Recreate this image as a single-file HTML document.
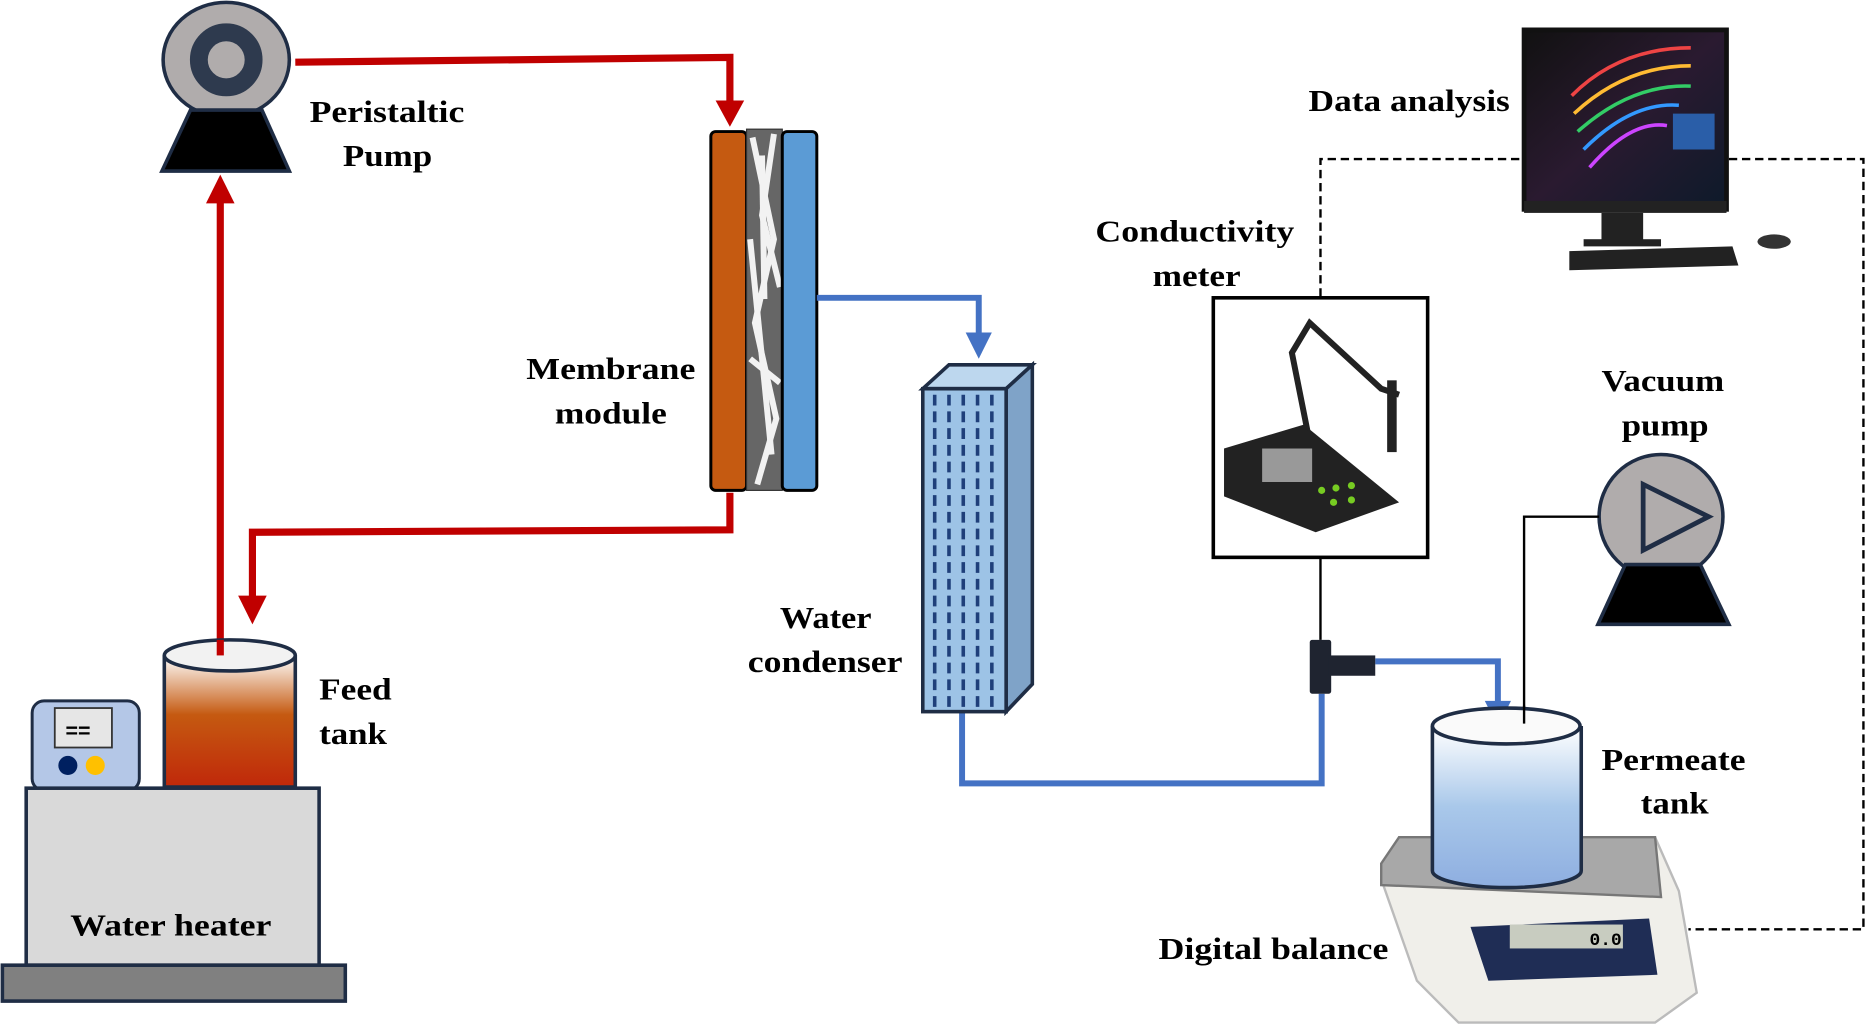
<!DOCTYPE html>
<html><head><meta charset="utf-8"><style>html,body{margin:0;padding:0;background:#fff}svg{display:block}text{font-family:"Liberation Serif",serif;font-weight:bold;font-size:26px;fill:#000}</style></head>
<body>
<svg width="1867" height="1025" viewBox="0 0 1568 857" preserveAspectRatio="none" xmlns="http://www.w3.org/2000/svg">
<defs>
<linearGradient id="feed" x1="0" y1="0" x2="0" y2="1"><stop offset="0" stop-color="#fff"/><stop offset="0.45" stop-color="#c55a11"/><stop offset="1" stop-color="#c0280a"/></linearGradient>
<linearGradient id="perm" x1="0" y1="0" x2="0" y2="1"><stop offset="0" stop-color="#fff"/><stop offset="0.5" stop-color="#a9c8ea"/><stop offset="1" stop-color="#8eaee0"/></linearGradient>
<linearGradient id="scr" x1="0" y1="0" x2="1" y2="1"><stop offset="0" stop-color="#111"/><stop offset="0.5" stop-color="#2a1a30"/><stop offset="1" stop-color="#0d1a2a"/></linearGradient>
</defs>
<g stroke="#c00000" stroke-width="6" fill="none">
<polyline points="248,52 613,48 613,90"/>
<line x1="185" y1="548" x2="185" y2="168"/>
<polyline points="613,412 613,443 212,445 212,500"/>
</g>
<g fill="#c00000">
<polygon points="601,84 625,84 613,106"/>
<polygon points="173,170 197,170 185,146"/>
<polygon points="200,498 224,498 212,522"/>
</g>
<ellipse cx="190" cy="50" rx="53" ry="48" fill="#b0acac" stroke="#1f2d45" stroke-width="3"/>
<circle cx="190" cy="50" r="23" fill="none" stroke="#2e3a4e" stroke-width="15"/>
<polygon points="160,92 220,92 243,143 136,143" fill="#000" stroke="#1f2d45" stroke-width="3"/>
<text x="260" y="102" textLength="130" lengthAdjust="spacingAndGlyphs">Peristaltic</text><text x="288" y="139" textLength="75" lengthAdjust="spacingAndGlyphs">Pump</text>
<rect x="597" y="110" width="30" height="300" rx="4" fill="#c55a11" stroke="#000" stroke-width="2.5"/>
<rect x="627" y="108" width="30" height="302" fill="#666" stroke="#333" stroke-width="1"/>
<g stroke="#f2f2f2" stroke-width="5" fill="none"><path d="M632,115 L650,200 L634,270 L652,350 L636,405"/><path d="M650,112 L640,180 L655,240"/><path d="M630,300 L655,320"/><path d="M640,130 L642,250"/><path d="M630,200 L648,380"/></g>
<rect x="657" y="110" width="29" height="300" rx="4" fill="#5b9bd5" stroke="#000" stroke-width="2.5"/>
<text x="442" y="317" textLength="142" lengthAdjust="spacingAndGlyphs">Membrane</text><text x="466" y="354" textLength="94" lengthAdjust="spacingAndGlyphs">module</text>
<g stroke="#4472c4" stroke-width="5" fill="none">
<polyline points="686,249 822,249 822,282"/>
<polyline points="808,595 808,655 1110,655 1110,580"/>
<polyline points="1155,553 1258,553 1258,590"/>
</g>
<g fill="#4472c4"><polygon points="811,278 833,278 822,300"/><polygon points="1247,586 1269,586 1258,608"/></g>
<polygon points="775,325 797,305 867,305 845,325" fill="#bdd7ee" stroke="#1f2d45" stroke-width="3"/>
<polygon points="845,325 867,305 867,572 845,595" fill="#7fa3c8" stroke="#1f2d45" stroke-width="3"/>
<rect x="775" y="325" width="70" height="270" fill="#9dc3e6" stroke="#1f2d45" stroke-width="3"/>
<g stroke="#1f3f7a" stroke-width="3" stroke-dasharray="9,5"><line x1="785" y1="330" x2="785" y2="592"/><line x1="797" y1="330" x2="797" y2="592"/><line x1="809" y1="330" x2="809" y2="592"/><line x1="821" y1="330" x2="821" y2="592"/><line x1="833" y1="330" x2="833" y2="592"/></g>
<text x="655" y="525" textLength="77" lengthAdjust="spacingAndGlyphs">Water</text><text x="628" y="562" textLength="130" lengthAdjust="spacingAndGlyphs">condenser</text>
<rect x="27" y="586" width="90" height="75" rx="10" fill="#b4c7e7" stroke="#1f2d45" stroke-width="2.5"/>
<rect x="46" y="592" width="48" height="33" fill="#e6e6e6" stroke="#333" stroke-width="1.5"/>
<text x="55" y="617" style="font-family:'Liberation Sans',sans-serif;font-size:18px">==</text>
<circle cx="57" cy="640" r="8" fill="#002060"/><circle cx="80" cy="640" r="8" fill="#ffc000"/>
<path d="M138,548 L138,658 L248,658 L248,548" fill="url(#feed)" stroke="#1f2d45" stroke-width="3"/>
<ellipse cx="193" cy="548" rx="55" ry="13" fill="#f2f2f2" stroke="#1f2d45" stroke-width="3"/>
<line x1="185" y1="548" x2="185" y2="535" stroke="#c00000" stroke-width="6"/>
<rect x="22" y="659" width="246" height="148" fill="#d9d9d9" stroke="#1f2d45" stroke-width="3"/>
<rect x="2" y="807" width="288" height="30" fill="#808080" stroke="#1f2d45" stroke-width="3"/>
<text x="59" y="782" textLength="169" lengthAdjust="spacingAndGlyphs">Water heater</text>
<text x="268" y="585" textLength="61" lengthAdjust="spacingAndGlyphs">Feed</text><text x="268" y="622" textLength="57" lengthAdjust="spacingAndGlyphs">tank</text>
<g stroke="#000" stroke-width="2" stroke-dasharray="7,4" fill="none"><polyline points="1109,248 1109,133 1282,133"/><polyline points="1452,133 1565,133 1565,777 1418,777"/></g>
<rect x="1280" y="25" width="170" height="150" fill="url(#scr)" stroke="#111" stroke-width="4"/>
<g stroke-width="3" fill="none"><path d="M1320,80 Q1360,40 1420,40" stroke="#e44"/><path d="M1322,95 Q1365,55 1420,55" stroke="#fb3"/><path d="M1325,110 Q1370,70 1420,72" stroke="#3c6"/><path d="M1330,125 Q1370,85 1410,88" stroke="#39f"/><path d="M1335,140 Q1370,100 1400,105" stroke="#c4f"/></g>
<rect x="1405" y="95" width="35" height="30" fill="#2a5ea8"/>
<rect x="1280" y="168" width="170" height="10" fill="#222"/>
<rect x="1345" y="178" width="35" height="25" fill="#222"/><rect x="1330" y="200" width="65" height="6" fill="#222"/>
<polygon points="1318,210 1455,206 1460,222 1318,226" fill="#222"/>
<ellipse cx="1490" cy="202" rx="14" ry="6" fill="#333"/>
<text x="1099" y="93" textLength="169" lengthAdjust="spacingAndGlyphs">Data analysis</text>
<rect x="1019" y="249" width="180" height="217" fill="#fff" stroke="#000" stroke-width="3"/>
<polygon points="1028,375 1095,355 1175,420 1105,445 1028,415" fill="#222"/>
<rect x="1060" y="375" width="42" height="28" fill="#999"/>
<g fill="#7c2"><circle cx="1110" cy="410" r="3"/><circle cx="1122" cy="408" r="3"/><circle cx="1135" cy="406" r="3"/><circle cx="1120" cy="420" r="3"/><circle cx="1135" cy="418" r="3"/></g>
<g stroke="#222" stroke-width="5" fill="none"><path d="M1098,360 L1085,295 L1100,270 L1160,325 L1175,330"/></g>
<rect x="1165" y="318" width="8" height="60" fill="#222"/>
<text x="920" y="202" textLength="167" lengthAdjust="spacingAndGlyphs">Conductivity</text><text x="968" y="239" textLength="74" lengthAdjust="spacingAndGlyphs">meter</text>
<line x1="1109" y1="466" x2="1109" y2="535" stroke="#000" stroke-width="2"/>
<rect x="1100" y="535" width="18" height="45" rx="2" fill="#1f2430"/>
<rect x="1116" y="548" width="39" height="17" fill="#1f2430"/>
<circle cx="1395" cy="432" r="52" fill="#b0acac" stroke="#1f2d45" stroke-width="3"/>
<polygon points="1380,405 1380,460 1435,432" fill="none" stroke="#1f2d45" stroke-width="4"/>
<polygon points="1365,472 1428,472 1452,522 1342,522" fill="#000" stroke="#1f2d45" stroke-width="3"/>
<text x="1345" y="327" textLength="103" lengthAdjust="spacingAndGlyphs">Vacuum</text><text x="1362" y="364" textLength="73" lengthAdjust="spacingAndGlyphs">pump</text>
<polyline points="1343,432 1280,432 1280,605" fill="none" stroke="#000" stroke-width="2"/>
<polygon points="1160,735 1175,700 1390,700 1410,745 1425,830 1390,855 1225,855 1190,820" fill="#f0efea" stroke="#bbb" stroke-width="2"/>
<polygon points="1160,722 1175,700 1390,700 1395,750 1160,740" fill="#a8a8a8" stroke="#777" stroke-width="2"/>
<polygon points="1235,775 1385,768 1392,815 1250,820" fill="#1f2d55"/>
<rect x="1268" y="773" width="95" height="20" fill="#c8ccc0"/>
<text x="1335" y="790" style="font-family:'Liberation Mono',monospace;font-size:15px">0.0</text>
<path d="M1203,607 L1203,728 A62,14 0 0 0 1328,728 L1328,607" fill="url(#perm)" stroke="#1f2d45" stroke-width="3"/>
<ellipse cx="1265" cy="607" rx="62" ry="15" fill="#fafafa" stroke="#1f2d45" stroke-width="3"/>
<line x1="1280" y1="590" x2="1280" y2="605" stroke="#000" stroke-width="2"/>
<text x="1345" y="644" textLength="121" lengthAdjust="spacingAndGlyphs">Permeate</text><text x="1378" y="680" textLength="57" lengthAdjust="spacingAndGlyphs">tank</text>
<text x="973" y="802" textLength="193" lengthAdjust="spacingAndGlyphs">Digital balance</text>
</svg>
</body></html>
